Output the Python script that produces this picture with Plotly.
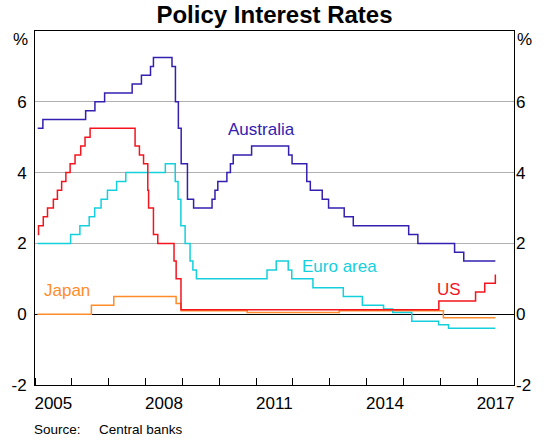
import plotly.graph_objects as go

# ---------------- data ----------------
aus_dates = ["2005-01-28", "2005-03-20", "2006-05-18", "2006-08-18", "2006-11-22",
             "2007-08-22", "2007-11-22", "2008-02-20", "2008-03-20", "2008-09-20",
             "2008-10-24", "2008-11-22", "2008-12-20", "2009-02-20", "2009-04-22",
             "2009-10-22", "2009-11-20", "2009-12-18", "2010-03-18", "2010-04-22",
             "2010-05-20", "2010-11-18", "2011-11-20", "2011-12-24", "2012-05-18",
             "2012-06-22", "2012-10-18", "2012-12-20", "2013-05-24", "2013-08-22",
             "2015-02-22", "2015-05-24", "2016-05-22", "2016-08-21", "2017-06-30"]
aus_vals = [5.25, 5.50, 5.75, 6.00, 6.25,
            6.50, 6.75, 7.00, 7.25, 7.00,
            6.00, 5.25, 4.25, 3.25, 3.00,
            3.25, 3.50, 3.75, 4.00, 4.25,
            4.50, 4.75, 4.50, 4.25, 3.75,
            3.50, 3.25, 3.00, 2.75, 2.50,
            2.25, 2.00, 1.75, 1.50, 1.50]

us_dates = ["2005-01-28", "2005-02-05", "2005-03-24", "2005-05-05", "2005-07-02",
            "2005-08-11", "2005-09-22", "2005-11-03", "2005-12-15", "2006-02-02",
            "2006-03-30", "2006-05-12", "2006-07-01", "2007-09-20", "2007-11-02",
            "2007-12-13", "2008-01-24", "2008-02-01", "2008-03-20", "2008-05-02",
            "2008-10-10", "2008-10-31", "2008-12-18", "2015-12-18", "2016-12-16",
            "2017-03-17", "2017-06-30"]
us_vals = [2.25, 2.50, 2.75, 3.00, 3.25,
           3.50, 3.75, 4.00, 4.25, 4.50,
           4.75, 5.00, 5.25, 4.75, 4.50,
           4.25, 3.50, 3.00, 2.25, 2.00,
           1.50, 1.00, 0.125, 0.375, 0.625,
           0.875, 1.125]

euro_dates = ["2005-01-28", "2005-12-20", "2006-03-22", "2006-06-22", "2006-08-16",
              "2006-10-18", "2006-12-20", "2007-03-21", "2007-06-20", "2008-07-16",
              "2008-10-22", "2008-11-19", "2008-12-17", "2009-01-28", "2009-03-18",
              "2009-04-15", "2009-05-20", "2011-04-20", "2011-07-20", "2011-11-16",
              "2011-12-21", "2012-07-18", "2013-05-15", "2013-11-20", "2014-06-18",
              "2014-09-17", "2015-03-25", "2015-12-16", "2016-03-23", "2017-06-30"]
euro_vals = [2.00, 2.25, 2.50, 2.75, 3.00,
             3.25, 3.50, 3.75, 4.00, 4.25,
             3.75, 3.25, 2.50, 2.00, 1.50,
             1.25, 1.00, 1.25, 1.50, 1.25,
             1.00, 0.75, 0.50, 0.25, 0.15,
             0.05, -0.20, -0.30, -0.40, -0.40]

jap_dates = ["2005-01-25", "2006-07-14", "2007-02-21", "2008-10-31", "2008-12-19",
             "2010-10-05", "2013-04-04", "2016-02-01", "2017-06-30"]
jap_vals = [0.00, 0.25, 0.50, 0.30, 0.10,
            0.05, 0.10, -0.10, -0.10]

y_ticks = [-2, 0, 2, 4, 6]
y_ticktext = ["-2", "0", "2", "4", "6"]
x_label_dates = ["2005-07-02", "2008-07-02", "2011-07-02", "2014-07-02", "2017-07-02"]
x_label_text = ["2005", "2008", "2011", "2014", "2017"]

# ---------------- style ----------------
FONT = "Liberation Sans, Arial, sans-serif"
C_AUS = "#3320B0"
C_EUR = "#14D0DC"
C_US = "#F4141E"
C_JAP = "#FF8C28"
LW = 1.5

fig = go.Figure()
fig.add_trace(go.Scatter(x=jap_dates, y=jap_vals, mode="lines", line=dict(color=C_JAP, width=LW, shape="hv")))
fig.add_trace(go.Scatter(x=euro_dates, y=euro_vals, mode="lines", line=dict(color=C_EUR, width=LW, shape="hv")))
fig.add_trace(go.Scatter(x=us_dates, y=us_vals, mode="lines", line=dict(color=C_US, width=LW, shape="hv")))
fig.add_trace(go.Scatter(x=aus_dates, y=aus_vals, mode="lines", line=dict(color=C_AUS, width=LW, shape="hv")))
fig.add_trace(go.Scatter(x=[None], y=[None], yaxis="y2", mode="lines", hoverinfo="skip"))

fig.update_layout(
    width=551, height=441,
    margin=dict(l=35, r=37, t=31, b=56, pad=0, autoexpand=False),
    paper_bgcolor="white", plot_bgcolor="white",
    showlegend=False,
    font=dict(family=FONT, size=17, color="black"),
    xaxis=dict(
        type="date", range=["2005-01-01", "2018-01-01"], automargin=False,
        tickmode="array", tickvals=x_label_dates, ticktext=x_label_text,
        ticks="", showgrid=False, zeroline=False,
        showline=True, linecolor="black", linewidth=1, mirror=True,
        ticklabelstandoff=3,
        tickfont=dict(size=17),
        minor=dict(ticks="inside", dtick="M12", tick0="2005-01-01", ticklen=7,
                   tickcolor="black", tickwidth=1, showgrid=False),
    ),
    yaxis=dict(
        range=[-2, 8], tickmode="array", tickvals=y_ticks, ticktext=y_ticktext,
        automargin=False,
        ticks="", showgrid=True, gridcolor="#B0B0B0", gridwidth=1,
        zeroline=True, zerolinecolor="black", zerolinewidth=1,
        showline=True, linecolor="black", linewidth=1, mirror=True,
        ticklabelstandoff=4, tickfont=dict(size=17),
    ),
    yaxis2=dict(
        range=[-2, 8], tickmode="array", tickvals=y_ticks, ticktext=y_ticktext,
        automargin=False,
        overlaying="y", side="right", ticks="", showgrid=False, zeroline=False,
        showline=False, ticklabelstandoff=1, tickfont=dict(size=17),
    ),
    title=dict(text="<b>Policy Interest Rates</b>", x=0.5, xref="paper", automargin=False,
               y=1 - 15 / 441, yref="container", xanchor="center", yanchor="middle",
               font=dict(family=FONT, size=24, color="black")),
)

anns = [
    dict(text="%", xref="paper", yref="y", x=0, y=7.75, xanchor="right", yanchor="middle", xshift=-5),
    dict(text="%", xref="paper", yref="y", x=1, y=7.75, xanchor="left", yanchor="middle", xshift=1),
    dict(text="Australia", xref="x", yref="y", x="2011-03-01", y=5.23, font=dict(color=C_AUS)),
    dict(text="Euro area", xref="x", yref="y", x="2013-04-12", y=1.36, font=dict(color=C_EUR)),
    dict(text="US", xref="x", yref="y", x="2016-03-25", y=0.71, font=dict(color=C_US)),
    dict(text="Japan", xref="x", yref="y", x="2005-11-16", y=0.68, font=dict(color=C_JAP)),
    dict(text="Source:", xref="paper", yref="paper", x=-0.007, y=-0.127, xanchor="left", yanchor="middle",
         font=dict(size=13.5)),
    dict(text="Central banks", xref="paper", yref="paper", x=(97.3 - 35) / 479, y=-0.127, xanchor="left",
         yanchor="middle", font=dict(size=13.5)),
]
for a in anns:
    a.setdefault("showarrow", False)
    a.setdefault("xanchor", "center")
    a.setdefault("yanchor", "middle")
    f = a.setdefault("font", {})
    f.setdefault("family", FONT)
    f.setdefault("size", 17)
    f.setdefault("color", "black")
    fig.add_annotation(**a)

fig.write_html("out.html",
               config={"displayModeBar": False},
               post_script="document.body.style.margin='0';document.body.style.padding='0';")
